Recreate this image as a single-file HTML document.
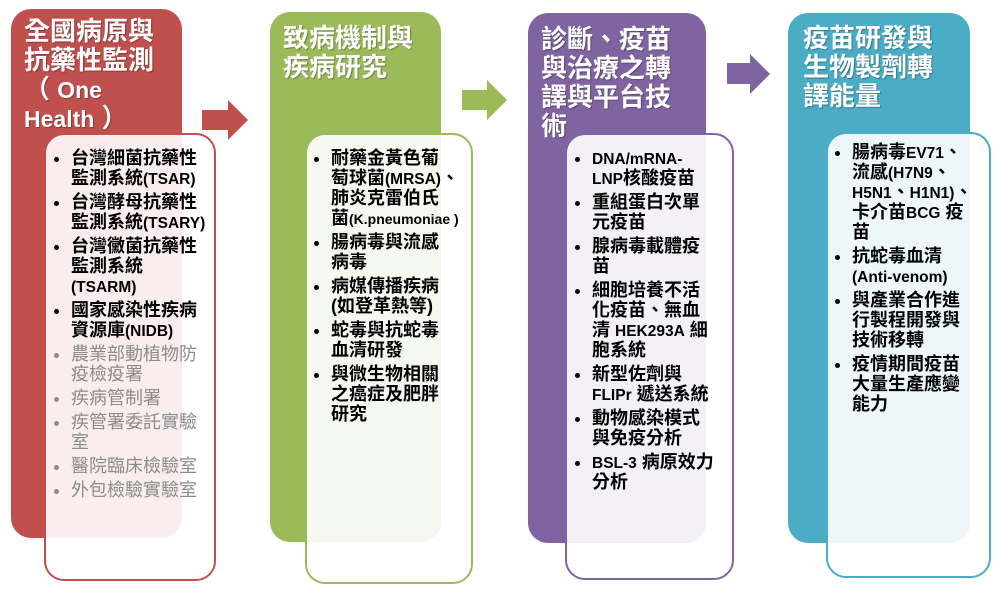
<!DOCTYPE html>
<html><head><meta charset="utf-8"><style>
body{margin:0;width:998px;height:591px;background:#fff;position:relative;overflow:hidden;font-family:"Liberation Sans","Noto Sans CJK TC",sans-serif}
.c{position:absolute;border-radius:20px}
.t{position:absolute;color:#fff;font-weight:bold;font-size:26px;line-height:29px;text-shadow:1px 1px 1px rgba(0,0,0,.3);white-space:nowrap}
.t span{line-height:10px}
.b{position:absolute;background:rgba(255,255,255,.9);border:2px solid;border-radius:20px;box-sizing:border-box}
ul{position:absolute;margin:0;padding:0 0 0 14px;font-size:18px;line-height:20px;color:#000;white-space:nowrap}
li{margin:0 0 4px 0}
.g{color:#8c8c8c}
.bd{font-weight:bold}
.l{font-size:15.5px;line-height:10px}
.ar{position:absolute}
</style></head><body>
<div class="c" style="left:11px;top:9px;width:171px;height:529px;background:#c0504d"></div>
<div class="c" style="left:270px;top:12px;width:171px;height:530px;background:#9bbb59"></div>
<div class="c" style="left:528px;top:13px;width:178px;height:530px;background:#8064a2"></div>
<div class="c" style="left:788px;top:13px;width:182px;height:530px;background:#4bacc6"></div>

<div class="t" style="left:24px;top:17px">全國病原與<br>抗藥性監測<br>（ <span style="font-size:23px">One</span><br><span style="font-size:23px">Health</span> ）</div>
<div class="t" style="left:283px;top:24px">致病機制與<br>疾病研究</div>
<div class="t" style="left:541px;top:25px">診斷、疫苗<br>與治療之轉<br>譯與平台技<br>術</div>
<div class="t" style="left:803px;top:24px">疫苗研發與<br>生物製劑轉<br>譯能量</div>

<svg class="ar" style="left:0;top:0" width="998" height="591">
<polygon points="202,110 228,110 228,100 248,120 228,140 228,130 202,130" fill="#c0504d"/>
<polygon points="462,90 487,90 487,80 507,100 487,120 487,110 462,110" fill="#9bbb59"/>
<polygon points="727,63 750,63 750,54 770,74 750,94 750,84 727,84" fill="#8064a2"/>
</svg>

<div class="b" style="left:44px;top:133px;width:172px;height:448px;border-color:#c0504d"></div>
<div class="b" style="left:305px;top:133px;width:168px;height:451px;border-color:#9bbb59"></div>
<div class="b" style="left:565px;top:133px;width:169px;height:447px;border-color:#8064a2"></div>
<div class="b" style="left:826px;top:132px;width:165px;height:446px;border-color:#4bacc6"></div>

<ul style="left:57px;top:148px;width:160px">
<li class="bd">台灣細菌抗藥性<br>監測系統<span class="l">(TSAR)</span></li>
<li class="bd">台灣酵母抗藥性<br>監測系統<span class="l">(TSARY)</span></li>
<li class="bd">台灣黴菌抗藥性<br>監測系統<br><span class="l">(TSARM)</span></li>
<li class="bd">國家感染性疾病<br>資源庫<span class="l">(NIDB)</span></li>
<li class="g">農業部動植物防<br>疫檢疫署</li>
<li class="g">疾病管制署</li>
<li class="g">疾管署委託實驗<br>室</li>
<li class="g">醫院臨床檢驗室</li>
<li class="g">外包檢驗實驗室</li>
</ul>
<ul class="bd" style="left:317px;top:148px;width:160px">
<li>耐藥金黃色葡<br>萄球菌<span class="l">(MRSA)</span>、<br>肺炎克雷伯氏<br>菌<span class="l" style="font-size:14px">(K.pneumoniae )</span></li>
<li>腸病毒與流感<br>病毒</li>
<li>病媒傳播疾病<br>(如登革熱等)</li>
<li>蛇毒與抗蛇毒<br>血清研發</li>
<li>與微生物相關<br>之癌症及肥胖<br>研究</li>
</ul>
<ul class="bd" style="left:578px;top:148px;width:160px">
<li><span class="l">DNA/mRNA-</span><br><span class="l">LNP</span>核酸疫苗</li>
<li>重組蛋白次單<br>元疫苗</li>
<li>腺病毒載體疫<br>苗</li>
<li>細胞培養不活<br>化疫苗、無血<br>清 <span class="l">HEK293A</span> 細<br>胞系統</li>
<li>新型佐劑與<br><span class="l">FLIPr</span> 遞送系統</li>
<li>動物感染模式<br>與免疫分析</li>
<li><span class="l">BSL-3</span> 病原效力<br>分析</li>
</ul>
<ul class="bd" style="left:838px;top:142px;width:160px">
<li>腸病毒<span class="l">EV71</span>、<br>流感<span class="l">(H7N9</span>、<br><span class="l">H5N1</span>、<span class="l">H1N1)</span>、<br>卡介苗<span class="l">BCG</span> 疫<br>苗</li>
<li>抗蛇毒血清<br><span class="l">(Anti-venom)</span></li>
<li>與產業合作進<br>行製程開發與<br>技術移轉</li>
<li>疫情期間疫苗<br>大量生產應變<br>能力</li>
</ul>
</body></html>
